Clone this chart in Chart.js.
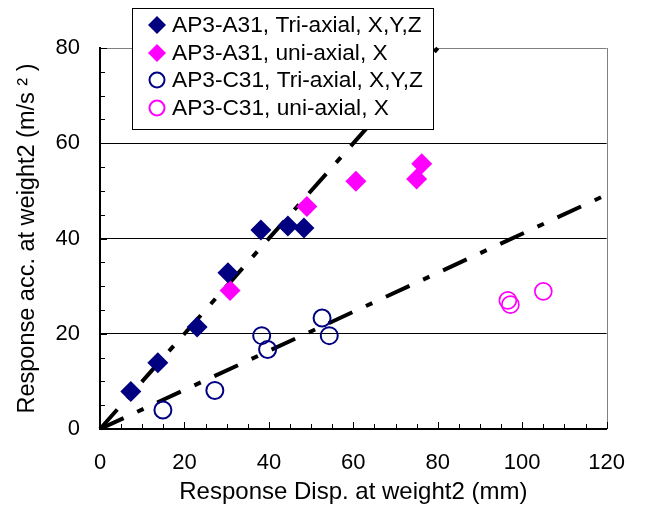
<!DOCTYPE html>
<html>
<head>
<meta charset="utf-8">
<script src="https://cdn.jsdelivr.net/npm/chart.js@4/dist/chart.umd.min.js"></script>
<style>
  html, body { margin: 0; padding: 0; background: #fff; }
</style>
</head>
<body>
<canvas id="chart" width="646" height="511"></canvas>
<script>
// series
const seriesNames = [
  'AP3-A31, Tri-axial, X,Y,Z',
  'AP3-A31, uni-axial, X',
  'AP3-C31, Tri-axial, X,Y,Z',
  'AP3-C31, uni-axial, X'
];
const a31TriX = [7.3, 13.7, 23.0, 30.3, 38.1, 44.5, 48.3];
const a31TriY = [7.9, 13.9, 21.4, 32.8, 41.8, 42.6, 42.2];
const a31UniX = [30.8, 49.0, 60.6, 75.0, 76.2];
const a31UniY = [29.1, 46.7, 52.0, 52.5, 55.7];
const c31TriX = [14.9, 27.2, 38.3, 39.7, 52.6, 54.3];
const c31TriY = [4.0, 8.1, 19.6, 16.7, 23.3, 19.6];
const c31UniX = [96.6, 97.2, 105.0];
const c31UniY = [27.0, 26.1, 28.9];

// two fit lines through the origin
const fitAX = [0, 80];
const fitAY = [0, 80];
const fitCX = [0, 120];
const fitCY = [0, 49.2];

const xTickValues = [0, 20, 40, 60, 80, 100, 120];
const yTickValues = [0, 20, 40, 60, 80];
const minorStep = 5;

const NAVY = '#000080';
const MAGENTA = '#ff00ff';
const FONT = "'Liberation Sans', Arial, sans-serif";

function pts(xs, ys) {
  return xs.map((x, i) => ({ x: x, y: ys[i] }));
}

// inward tick marks + grey right frame
const frameTicks = {
  id: 'frameTicks',
  beforeDatasetsDraw(chart) {
    const { ctx, chartArea: a, scales: { x, y } } = chart;
    ctx.save();
    ctx.strokeStyle = '#808080';
    ctx.lineWidth = 1;
    ctx.beginPath();
    ctx.moveTo(Math.round(a.right) + 0.5, a.top);
    ctx.lineTo(Math.round(a.right) + 0.5, a.bottom);
    ctx.stroke();

    ctx.strokeStyle = '#000';
    ctx.beginPath();
    for (let v = x.min; v <= x.max; v += minorStep) {
      const px = Math.round(x.getPixelForValue(v)) + 0.5;
      const len = v % 20 ? 5 : 7;
      ctx.moveTo(px, a.bottom);
      ctx.lineTo(px, a.bottom - len);
    }
    for (let v = y.min; v <= y.max; v += minorStep) {
      const py = Math.round(y.getPixelForValue(v)) + 0.5;
      const len = v % 20 ? 5 : 7;
      ctx.moveTo(a.left, py);
      ctx.lineTo(a.left + len, py);
    }
    ctx.stroke();
    ctx.restore();
  }
};

// boxed legend sitting over the top of the plot
const boxLegend = {
  id: 'boxLegend',
  afterDraw(chart) {
    const ctx = chart.ctx;
    const left = 132, top = 8, right = 433, bottom = 129;
    const rows = [25, 53, 80, 108];
    ctx.save();
    ctx.fillStyle = '#fff';
    ctx.fillRect(left, top, right - left, bottom - top);
    ctx.strokeStyle = '#000';
    ctx.lineWidth = 1;
    ctx.strokeRect(left + 0.5, top + 0.5, right - left, bottom - top);

    ctx.font = '22.7px ' + FONT;
    ctx.textBaseline = 'middle';
    ctx.textAlign = 'left';
    chart.data.datasets.forEach((ds, i) => {
      if (i >= seriesNames.length) return;
      const cy = rows[i], cx = 157;
      ctx.beginPath();
      if (ds.pointStyle === 'rectRot') {
        const r = 9;
        ctx.moveTo(cx - r, cy);
        ctx.lineTo(cx, cy - r);
        ctx.lineTo(cx + r, cy);
        ctx.lineTo(cx, cy + r);
        ctx.closePath();
        ctx.fillStyle = ds.backgroundColor;
        ctx.fill();
      } else {
        ctx.arc(cx, cy, 7.5, 0, Math.PI * 2);
        ctx.strokeStyle = ds.borderColor;
        ctx.lineWidth = 2;
        ctx.stroke();
      }
      ctx.fillStyle = '#000';
      ctx.fillText(seriesNames[i], 172, cy + 1);
    });
    ctx.restore();
  }
};

const fitDash = [26, 15, 7, 15];

new Chart(document.getElementById('chart'), {
  type: 'scatter',
  data: {
    datasets: [
      {
        label: seriesNames[0],
        data: pts(a31TriX, a31TriY),
        pointStyle: 'rectRot',
        pointRadius: 10.5,
        backgroundColor: NAVY,
        borderColor: NAVY,
        borderWidth: 0,
        order: 1
      },
      {
        label: seriesNames[1],
        data: pts(a31UniX, a31UniY),
        pointStyle: 'rectRot',
        pointRadius: 10.5,
        backgroundColor: MAGENTA,
        borderColor: MAGENTA,
        borderWidth: 0,
        order: 1
      },
      {
        label: seriesNames[2],
        data: pts(c31TriX, c31TriY),
        pointStyle: 'circle',
        pointRadius: 8.5,
        backgroundColor: 'rgba(0,0,0,0)',
        borderColor: NAVY,
        borderWidth: 2,
        order: 1
      },
      {
        label: seriesNames[3],
        data: pts(c31UniX, c31UniY),
        pointStyle: 'circle',
        pointRadius: 8.5,
        backgroundColor: 'rgba(0,0,0,0)',
        borderColor: MAGENTA,
        borderWidth: 1.7,
        order: 1
      },
      {
        label: 'fit A31',
        data: pts(fitAX, fitAY),
        showLine: true,
        pointRadius: 0,
        borderColor: '#000',
        borderWidth: 4,
        borderDash: fitDash,
        borderCapStyle: 'butt',
        clip: false,
        order: 5
      },
      {
        label: 'fit C31',
        data: pts(fitCX, fitCY),
        showLine: true,
        pointRadius: 0,
        borderColor: '#000',
        borderWidth: 4,
        borderDash: fitDash,
        borderCapStyle: 'butt',
        order: 5
      }
    ]
  },
  options: {
    responsive: false,
    animation: false,
    layout: { padding: { left: 0, right: 37, top: 48, bottom: 0 } },
    plugins: {
      legend: { display: false },
      tooltip: { enabled: false }
    },
    scales: {
      x: {
        type: 'linear',
        min: 0,
        max: 120,
        afterBuildTicks: (s) => { s.ticks = xTickValues.map(v => ({ value: v })); },
        afterFit: (s) => { s.height = 82; },
        grid: { display: false, drawTicks: false },
        border: { display: true, color: '#000', width: 2 },
        ticks: { padding: 21, color: '#000', font: { family: FONT, size: 22 } },
        title: {
          display: true,
          text: 'Response Disp. at weight2 (mm)',
          color: '#000',
          font: { family: FONT, size: 24 },
          padding: { top: 0, bottom: 4 }
        }
      },
      y: {
        type: 'linear',
        min: 0,
        max: 80,
        afterBuildTicks: (s) => { s.ticks = yTickValues.map(v => ({ value: v })); },
        afterFit: (s) => { s.width = 100; },
        grid: {
          drawTicks: false,
          lineWidth: 1,
          color: (c) => c.tick.value === 80 ? '#808080' : (c.tick.value === 0 ? 'rgba(0,0,0,0)' : '#000')
        },
        border: { display: true, color: '#000', width: 2 },
        ticks: { padding: 20, color: '#000', font: { family: FONT, size: 22 } },
        title: {
          display: true,
          text: 'Response acc. at weight2 (m/s \u00b2 )',
          color: '#000',
          font: { family: FONT, size: 23.5 },
          padding: { top: 13, bottom: 0 }
        }
      }
    }
  },
  plugins: [frameTicks, boxLegend]
});
</script>
</body>
</html>
